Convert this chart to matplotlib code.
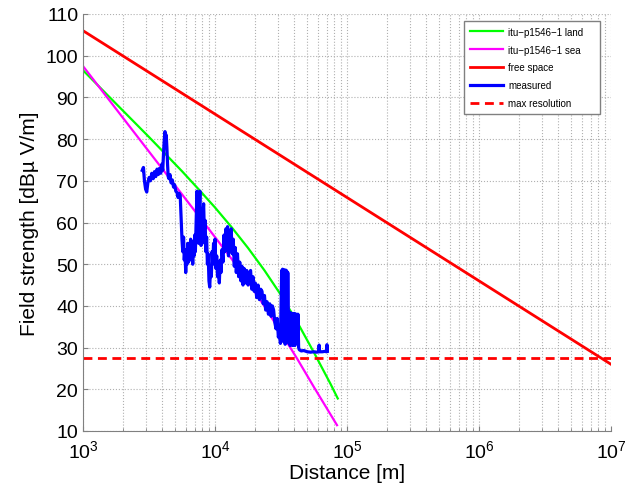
import numpy as np
import matplotlib
matplotlib.use("Agg")
import matplotlib.pyplot as plt

plt.rcParams['font.family'] = ['Liberation Sans', 'DejaVu Sans']
plt.rcParams['mathtext.fontset'] = 'custom'
plt.rcParams['mathtext.rm'] = 'Liberation Sans'
plt.rcParams['mathtext.it'] = 'Liberation Sans'

# itu-p1546-1 curves (distance m, field strength dBuV/m)
land_d = [1000, 1334, 1778, 2371, 3162, 4217, 5623, 7499, 10000, 13335, 17783,
          23714, 31623, 42170, 56234, 74989, 85114]
land_v = [96.5, 92.5, 88.5, 84.5, 80.5, 76.4, 72.3, 68.0, 63.6, 58.9, 53.9,
          48.5, 42.6, 36.0, 28.8, 21.3, 17.8]
sea_d = [1000, 3162, 10000, 13335, 17783, 23714, 31623, 42170, 56234, 84000]
sea_v = [97.5, 77.0, 56.5, 51.3, 45.8, 39.9, 33.6, 27.2, 20.5, 11.4]

# free space and resolution limit
free_d = [1e3, 1e7]
free_v = [106.0, 26.0]
res_d = [1e3, 1e7]
res_v = [27.5, 27.5]

# measured field strength
meas = [(2810, 72.5), (2870, 73.2), (2920, 70.0), (2980, 68.0), (3040, 67.3), (3100, 69.5),
        (3170, 70.8), (3240, 70.0), (3320, 71.8), (3400, 70.5), (3480, 72.2), (3560, 71.0),
        (3640, 72.8), (3720, 71.5), (3800, 73.0), (3880, 71.8), (3960, 74.0), (4020, 72.5),
        (4080, 77.0), (4130, 80.0), (4180, 81.8), (4220, 79.5), (4270, 81.0), (4320, 78.0),
        (4370, 74.0), (4420, 71.0), (4480, 70.5), (4560, 71.5), (4650, 69.5), (4750, 70.2),
        (4850, 68.5), (4950, 69.0), (5050, 67.5), (5150, 67.2), (5250, 66.0), (5350, 67.0),
        (5450, 66.5), (5550, 60.0), (5620, 56.0), (5700, 53.0), (5780, 56.5), (5850, 51.0),
        (5920, 53.5), (6000, 48.0), (6080, 53.0), (6150, 50.0), (6230, 55.0), (6300, 50.5),
        (6380, 54.0), (6460, 52.5), (6540, 56.0), (6620, 51.0), (6700, 54.5), (6780, 50.0),
        (6860, 55.5), (6940, 52.0), (7020, 57.0), (7100, 53.0), (7200, 60.0), (7300, 67.5),
        (7380, 61.0), (7450, 66.0), (7520, 55.0), (7600, 63.0), (7680, 67.5), (7760, 60.0),
        (7840, 54.5), (7920, 58.0), (8000, 55.0), (8100, 62.0), (8200, 64.5), (8300, 58.0),
        (8420, 60.5), (8520, 53.0), (8640, 56.5), (8760, 50.0), (8880, 52.5), (9000, 46.0),
        (9120, 44.5), (9250, 49.0), (9380, 47.0), (9500, 53.0), (9620, 50.0), (9750, 55.0),
        (9880, 51.0), (10000, 56.0), (10150, 49.0), (10300, 52.0), (10450, 47.0), (10600, 50.5),
        (10780, 45.5), (10950, 51.0), (11100, 48.0), (11300, 53.5), (11500, 50.5), (11700, 57.0),
        (11900, 53.0), (12100, 58.5), (12300, 55.0), (12450, 59.0), (12650, 52.0), (12850, 57.0),
        (13050, 54.0), (13250, 58.5), (13500, 52.5), (13750, 56.0), (14000, 49.5), (14250, 54.0),
        (14500, 48.0), (14800, 52.5), (15100, 47.0), (15400, 50.5), (15700, 46.0), (16000, 49.5),
        (16300, 45.0), (16600, 49.0), (17000, 45.5), (17400, 48.5), (17800, 45.0), (18200, 47.5),
        (18600, 48.5), (19000, 44.0), (19400, 47.0), (19800, 43.5), (20200, 45.5), (20700, 42.0),
        (21200, 45.0), (21700, 41.5), (22200, 44.0), (22700, 43.5), (23200, 40.5), (23700, 42.5),
        (24200, 39.0), (24800, 41.0), (25400, 38.0), (26000, 40.5), (26600, 37.5), (27200, 40.0),
        (27800, 39.0), (28400, 36.0), (29000, 34.5), (29600, 37.0), (30200, 32.5), (30800, 34.0),
        (31300, 31.0), (31700, 42.0), (32000, 48.5), (32200, 33.0), (32500, 48.8), (32800, 31.5),
        (33100, 48.7), (33400, 32.0), (33700, 48.5), (34000, 30.8), (34300, 48.6), (34600, 33.0),
        (34900, 48.4), (35200, 31.5), (35600, 48.0), (35900, 38.5), (36300, 31.0), (36700, 38.5),
        (37100, 30.5), (37500, 38.3), (37900, 31.0), (38300, 38.2), (38700, 30.5), (39100, 38.0),
        (39500, 31.0), (39900, 38.2), (40300, 30.5), (40700, 38.0), (41100, 31.0), (41500, 38.0),
        (42000, 31.0), (42500, 38.0), (43000, 30.0), (43500, 29.5), (45000, 29.2), (47000, 29.3),
        (50000, 29.0), (53000, 28.9), (56000, 29.0), (59000, 28.9), (61000, 29.0), (61500, 30.6),
        (62000, 29.0), (65000, 29.0), (68000, 29.1), (70000, 29.0), (70500, 30.7), (71000, 29.1)]
meas_d = [m[0] for m in meas]
meas_v = [m[1] for m in meas]

fig = plt.figure(figsize=(6.38, 4.89), dpi=100)
ax = fig.add_axes([83/638, 1-432/489, 528/638, 417/489])

# trailing spaces give the wider legend box of the original
ax.plot(land_d, land_v, color='#00ff00', lw=1.6, label='itu\u2212p1546\u22121 land    ')
ax.plot(sea_d, sea_v, color='#ff00ff', lw=1.6, label='itu\u2212p1546\u22121 sea')
ax.plot(free_d, free_v, color='#ff0000', lw=2.0, label='free space')
ax.plot(meas_d, meas_v, color='#0000ff', lw=2.3, label='measured')
ax.plot(res_d, res_v, color='#ff0000', lw=2.0, ls=(0, (3.2, 2)), label='max resolution')

ax.set_xscale('log')
ax.set_xlim(1e3, 1e7)
ax.set_ylim(10, 110)
ax.set_yticks(np.arange(10, 111, 10))

ax.grid(True, which='major', ls=':', color='#b0b0b0', lw=0.8)
ax.grid(True, which='minor', axis='x', ls=':', color='#b0b0b0', lw=0.8)

for s in ['top', 'right']:
    ax.spines[s].set_visible(False)
for s in ['left', 'bottom']:
    ax.spines[s].set_color('#808080')

ax.tick_params(axis='both', which='both', direction='in', labelsize=14, color='#808080')
ax.tick_params(axis='x', which='major', pad=6)

ax.set_xlabel('Distance [m]', fontsize=15, labelpad=1)
ax.set_ylabel('Field strength [dB\u00b5 V/m]', fontsize=15, labelpad=5)

leg = ax.legend(loc='upper right', bbox_to_anchor=((600-83)/528, (432-22)/417),
                bbox_transform=ax.transAxes, borderaxespad=0,
                fontsize=7, fancybox=False, framealpha=1, edgecolor='#808080',
                handlelength=3.4, handletextpad=0.5, borderpad=0.6, labelspacing=0.8)
leg.get_frame().set_linewidth(1.0)

fig.savefig('out.png', dpi=100)
